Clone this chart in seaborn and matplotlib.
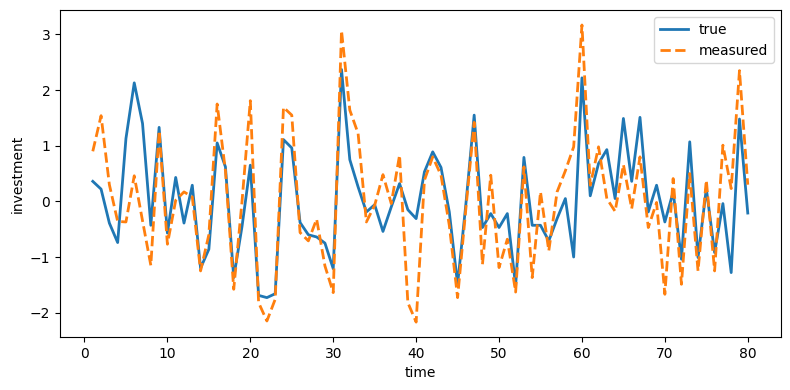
import numpy as np
import pandas as pd
import seaborn as sns
import matplotlib.pyplot as plt

# time steps 1..80
time = list(range(1, 81))

# true investment series
true_vals = [
    0.36, 0.22, -0.39, -0.74, 1.13, 2.13, 1.40, -0.43, 1.33, -0.57,
    0.43, -0.39, 0.29, -1.20, -0.86, 1.05, 0.62, -1.37, -0.45, 0.65,
    -1.69, -1.73, -1.66, 1.11, 0.96, -0.38, -0.60, -0.64, -0.75, -1.21,
    2.37, 0.75, 0.26, -0.19, -0.06, -0.54, -0.10, 0.32, -0.15, -0.31,
    0.53, 0.89, 0.61, -0.19, -1.49, -0.05, 1.55, -0.47, -0.22, -0.47,
    -0.22, -1.52, 0.79, -0.43, -0.43, -0.71, -0.31, 0.05, -1.00, 2.22,
    0.10, 0.68, 0.93, 0.05, 1.49, 0.36, 1.51, -0.19, 0.29, -0.37,
    0.17, -1.04, 1.07, -1.01, 0.23, -0.92, -0.04, -1.28, 1.48, -0.21,
]

# measured (noisy) series
measured_vals = [
    0.90, 1.54, 0.30, -0.36, -0.37, 0.46, -0.35, -1.15, 1.27, -0.77,
    0.02, 0.17, 0.08, -1.25, -0.60, 1.75, 0.55, -1.58, 0.00, 1.81,
    -1.82, -2.15, -1.76, 1.69, 1.55, -0.56, -0.71, -0.32, -1.16, -1.64,
    3.07, 1.64, 1.22, -0.37, -0.07, 0.48, -0.04, 0.83, -1.82, -2.17,
    0.38, 0.80, 0.47, -0.43, -1.73, -0.13, 1.42, -1.13, 0.47, -1.19,
    -0.68, -1.63, 0.62, -1.37, 0.17, -0.89, 0.17, 0.55, 0.98, 3.17,
    0.29, 0.98, 0.05, -0.18, 0.66, -0.13, 0.80, -0.47, -0.02, -1.67,
    0.41, -1.49, 0.50, -1.25, 0.38, -1.25, 1.01, 0.23, 2.35, 0.30,
]

df = pd.DataFrame({'time': time, 'true': true_vals, 'measured': measured_vals})

fig, ax = plt.subplots(figsize=(7.9, 3.9), dpi=100)
sns.lineplot(data=df, x='time', y='true', ax=ax, color='C0', linewidth=2, label='true')
sns.lineplot(data=df, x='time', y='measured', ax=ax, color='C1', linewidth=2,
             linestyle='--', label='measured')
ax.set_xlabel('time')
ax.set_ylabel('investment')
ax.legend(loc='upper right')

# match the reference's tight margins
fig.subplots_adjust(left=0.076, right=0.988, top=0.974, bottom=0.136)
plt.savefig('out.png')
plt.close()
